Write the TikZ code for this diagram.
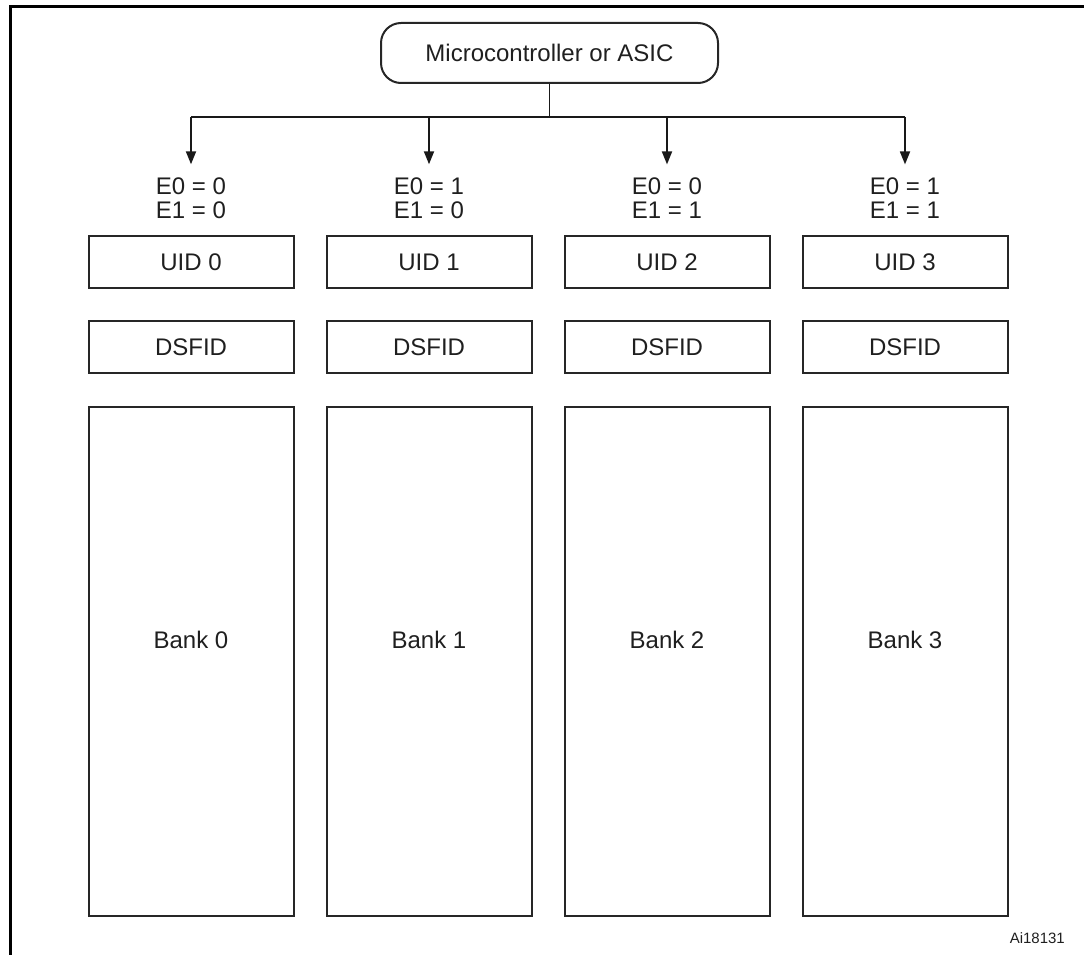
\documentclass[tikz,border=0pt]{standalone}
\usepackage{fontspec}
\setmainfont{Liberation Sans}
\usetikzlibrary{arrows.meta}
\begin{document}
\begin{tikzpicture}[x=1pt,y=-1pt,
  txt/.style={font=\fontsize{24}{24}\selectfont, text=black!88},
  cell/.style={draw=black!85, line width=2pt, minimum width=205pt, inner sep=0pt,
    text height=17pt, text depth=0pt, txt},
  wire/.style={draw=black!90, line width=1.8pt},
  feed/.style={wire, -{Triangle[length=13pt,width=10pt]}},
  sel/.style={txt, align=center, inner sep=13pt}]
\useasboundingbox (0,0) rectangle (1084,955);

% outer frame (top and left edges)
\coordinate (frameTR) at (1084,7);
\coordinate (frameTL) at (10.5,7);
\coordinate (frameBL) at (10.5,955);
\draw[black, line width=3pt] (frameTR) -- (frameTL) -- (frameBL);

% controller
\node[cell, rounded corners=20pt, minimum width=337pt, minimum height=60pt] (mcu) at (549.5,53) {Microcontroller or ASIC};
\coordinate (bus) at (549.5,117);
\draw[wire] (mcu.south) -- (bus);

% four memory areas
\foreach \i/\cx/\ea/\eb in {0/191/0/0, 1/429/1/0, 2/667/0/1, 3/905/1/1} {
  \coordinate (tap\i) at (\cx,117);
  \node[sel] (en\i) at (\cx,198) {E0 = \ea\\E1 = \eb};
  \node[cell, minimum height=52pt] (uid\i) at (\cx,262) {UID \i};
  \node[cell, minimum height=52pt] (dsfid\i) at (\cx,347) {DSFID};
  \node[cell, minimum height=509pt] (bank\i) at (\cx,661.5) {};
  \node[txt] (banklbl\i) at (\cx,640) {Bank \i};
  \draw[feed] (tap\i) -- (en\i.north);
}
\draw[wire] (tap0) -- (tap3);

\node[font=\fontsize{15}{18}\selectfont, text=black!88, anchor=east, inner sep=0pt] (ref) at (1065,938) {Ai18131};
\end{tikzpicture}
\end{document}
